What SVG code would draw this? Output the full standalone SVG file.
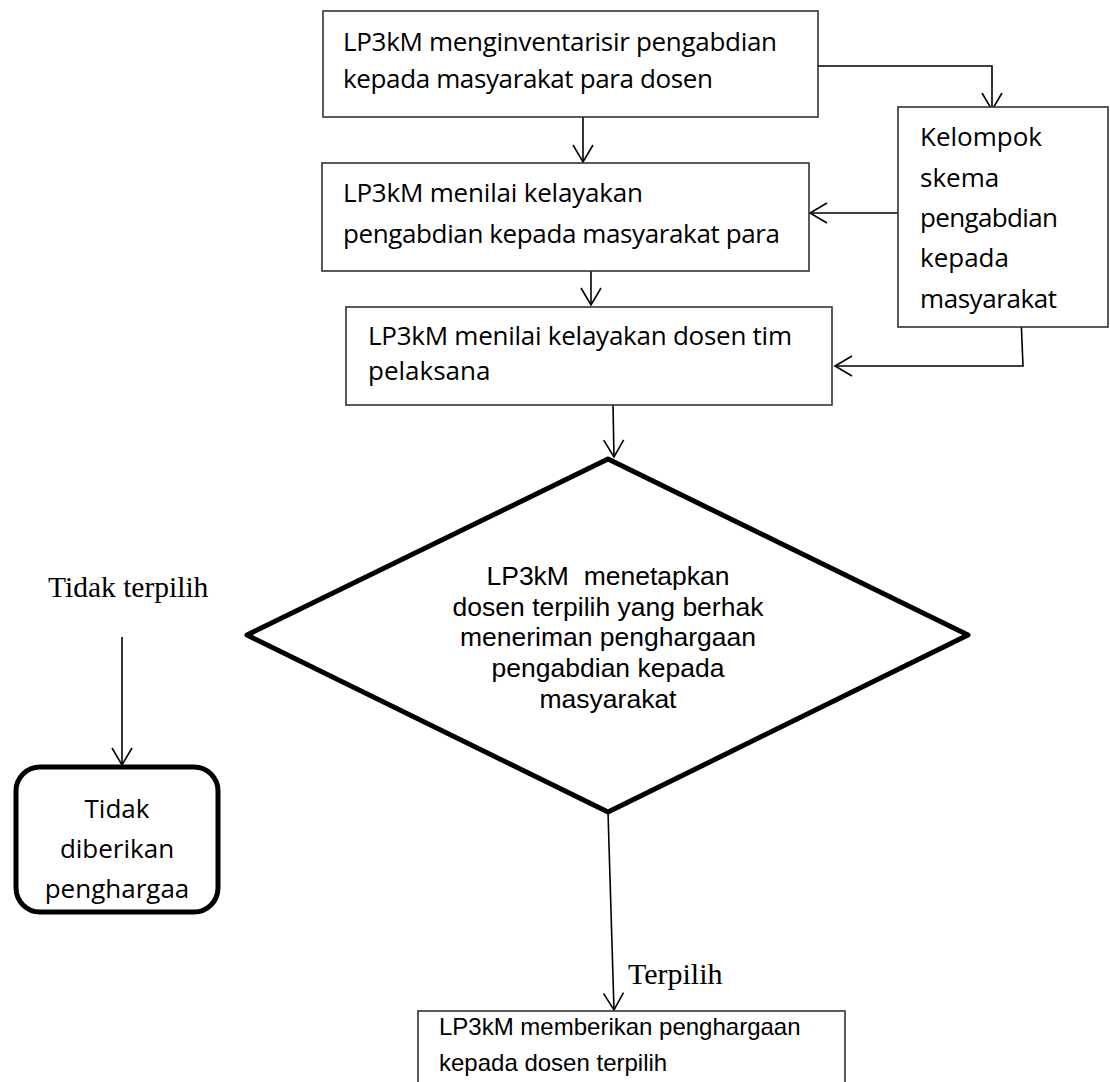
<svg xmlns="http://www.w3.org/2000/svg" width="1110" height="1082" viewBox="0 0 1110 1082">
<style>
.box{fill:#fff;stroke:#333;stroke-width:1.6}
.cal{font-family:"Open Sans","Liberation Sans",sans-serif;font-size:26px;fill:#000}
.ari{font-family:"Liberation Sans",Arial,sans-serif;fill:#000}
.ser{font-family:"Liberation Serif","Times New Roman",serif;fill:#000}
.ln{fill:none;stroke:#000;stroke-width:1.6}
</style>
<defs>
<marker id="arr" markerUnits="userSpaceOnUse" markerWidth="24" markerHeight="24" viewBox="-20 -12 24 24" refX="0" refY="0" orient="auto" overflow="visible">
<path d="M-17,-10 L0,0 L-17,10" fill="none" stroke="#000" stroke-width="1.6"/>
</marker>
</defs>
<rect width="1110" height="1082" fill="#fff"/>

<g id="connectors">
<path class="ln" d="M583,117 L583,162" marker-end="url(#arr)"/>
<path class="ln" d="M818,66 L992,66 L992,110" marker-end="url(#arr)"/>
<path class="ln" d="M898,213 L810,213" marker-end="url(#arr)"/>
<path class="ln" d="M591,263 L591,305" marker-end="url(#arr)"/>
<path class="ln" d="M1021,317 L1023,366 L835,366" marker-end="url(#arr)"/>
<path class="ln" d="M613,405 L614,457" marker-end="url(#arr)"/>
<path class="ln" d="M122,637 L122,765" marker-end="url(#arr)"/>
<path class="ln" d="M608,812 L614,1010" marker-end="url(#arr)"/>
</g>

<g id="n1">
<rect class="box" x="323" y="11" width="495" height="106"/>
<text class="cal" x="343" y="51" textLength="434">LP3kM menginventarisir pengabdian</text>
<text class="cal" x="343" y="88" textLength="370">kepada masyarakat para dosen</text>
</g>

<g id="n2">
<rect class="box" x="322" y="163" width="487" height="108"/>
<text class="cal" x="343" y="202" textLength="300">LP3kM menilai kelayakan</text>
<text class="cal" x="343" y="243" textLength="437">pengabdian kepada masyarakat para</text>
</g>

<g id="n3">
<rect class="box" x="346" y="307" width="486" height="98"/>
<text class="cal" x="368" y="345" textLength="424">LP3kM menilai kelayakan dosen tim</text>
<text class="cal" x="368" y="380">pelaksana</text>
</g>

<g id="n4">
<rect class="box" x="898" y="107" width="210" height="220"/>
<text class="cal" x="920" y="146">Kelompok</text>
<text class="cal" x="920" y="187">skema</text>
<text class="cal" x="920" y="227" textLength="138">pengabdian</text>
<text class="cal" x="920" y="267">kepada</text>
<text class="cal" x="920" y="308" textLength="137">masyarakat</text>
</g>

<g id="n5">
<polygon points="608,459 968,635 608,812 247,635" fill="#fff" stroke="#000" stroke-width="5" stroke-linejoin="round"/>
<g class="ari" font-size="26.5" text-anchor="middle">
<text x="608" y="585" xml:space="preserve">LP3kM  menetapkan</text>
<text x="608" y="616">dosen terpilih yang berhak</text>
<text x="608" y="646">meneriman penghargaan</text>
<text x="608" y="677">pengabdian kepada</text>
<text x="608" y="708">masyarakat</text>
</g>
</g>

<g id="lbl-tidak">
<text class="ser" x="48" y="597" font-size="29.5">Tidak terpilih</text>
</g>

<g id="n6">
<rect x="16" y="767" width="202" height="145" rx="24" ry="24" fill="#fff" stroke="#000" stroke-width="5"/>
<g class="cal" text-anchor="middle">
<text x="117" y="818">Tidak</text>
<text x="117" y="858">diberikan</text>
<text x="117" y="898">penghargaa</text>
</g>
</g>

<g id="lbl-terpilih">
<text class="ser" x="628" y="984" font-size="30">Terpilih</text>
</g>

<g id="n7">
<rect class="box" x="418" y="1011" width="427" height="90"/>
<text class="ari" x="439" y="1035" font-size="24">LP3kM memberikan penghargaan</text>
<text class="ari" x="439" y="1071" font-size="24">kepada dosen terpilih</text>
</g>
</svg>
